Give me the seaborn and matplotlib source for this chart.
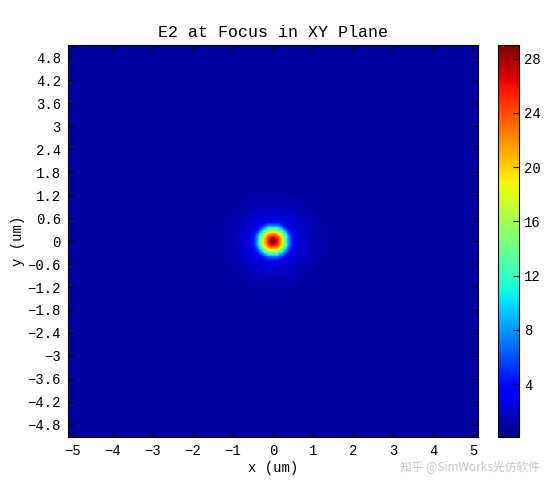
import matplotlib
matplotlib.use("Agg")
import matplotlib.pyplot as plt
import numpy as np
import seaborn as sns

# radial profile of E^2 (r in um, step 0.02)
profile_step = 0.02
e2_profile = [29.0, 28.9, 28.6, 28.1, 27.4, 26.6, 25.7, 24.7, 23.7, 22.6,
              21.5, 20.4, 19.3, 18.2, 16.9, 15.4, 13.9, 12.3, 10.9, 9.6,
              8.4, 7.3, 6.3, 5.4, 4.6, 4.0, 3.5, 3.1, 2.8, 2.6,
              2.45, 2.35, 2.3, 2.25, 2.2, 2.2, 2.2, 2.15, 2.1, 2.05,
              2.0, 1.95, 1.9, 1.85, 1.8, 1.7, 1.6, 1.5, 1.45, 1.4,
              1.35, 1.3, 1.3, 1.3, 1.3, 1.3, 1.3, 1.25, 1.2, 1.2,
              1.15, 1.15, 1.1, 1.1, 1.1, 1.05, 1.05, 1.05, 1.0, 1.0]
background = 1.0

x_ticks = [-5, -4, -3, -2, -1, 0, 1, 2, 3, 4, 5]
y_ticks = [4.8, 4.2, 3.6, 3, 2.4, 1.8, 1.2, 0.6, 0, -0.6, -1.2, -1.8,
           -2.4, -3, -3.6, -4.2, -4.8]
cbar_ticks = [4, 8, 12, 16, 20, 24, 28]

half = 5.12
step = 0.02
n = int(round(2 * half / step))
centers = -half + step * (np.arange(n) + 0.5)
xx, yy = np.meshgrid(centers, centers[::-1])
rr = np.hypot(xx, yy)
idx = np.rint(rr / profile_step).astype(int)
lookup = np.append(np.array(e2_profile), background)
field = lookup[np.minimum(idx, len(e2_profile))]

plt.rcParams["font.family"] = ["Liberation Mono", "DejaVu Sans Mono"]

fig = plt.figure(figsize=(5.52, 4.95), dpi=100)
ax = fig.add_axes([0.123, 0.117, 0.743, 0.792])
cax = fig.add_axes([0.902, 0.117, 0.038, 0.792])

sns.heatmap(field, ax=ax, cbar_ax=cax, cmap="jet", vmin=0.1, vmax=29,
            xticklabels=False, yticklabels=False, rasterized=True)

ax.set_xticks([(v + half) / step for v in x_ticks])
ax.set_xticklabels([f"{v:g}".replace("-", "\u2212") for v in x_ticks])
ax.set_yticks([(half - v) / step for v in y_ticks])
ax.set_yticklabels([f"{v:g}".replace("-", "\u2212") for v in y_ticks])
ax.tick_params(direction="in", length=4, labelsize=10, top=True, right=True,
               colors="black", pad=5)
for s in ax.spines.values():
    s.set_visible(True)
    s.set_color("black")
    s.set_linewidth(0.8)
ax.set_title("E2 at Focus in XY Plane", fontsize=12, pad=6)
ax.set_xlabel("x (um)", fontsize=10, labelpad=2)
ax.set_ylabel("y (um)", fontsize=10, labelpad=2)

cb = ax.collections[0].colorbar
cb.set_ticks(cbar_ticks)
cb.ax.tick_params(direction="in", length=4, labelsize=10, right=True, pad=4)
cb.outline.set_visible(True)
cb.outline.set_linewidth(0.8)
cb.outline.set_edgecolor("black")

fig.text(0.978, 0.056, "知乎 @SimWorks光仿软件", ha="right", va="center",
         fontsize=8.5, color="#c8c8c8",
         family=["Noto Sans CJK SC", "DejaVu Sans"])

fig.savefig("out.png", dpi=100, facecolor="white")
